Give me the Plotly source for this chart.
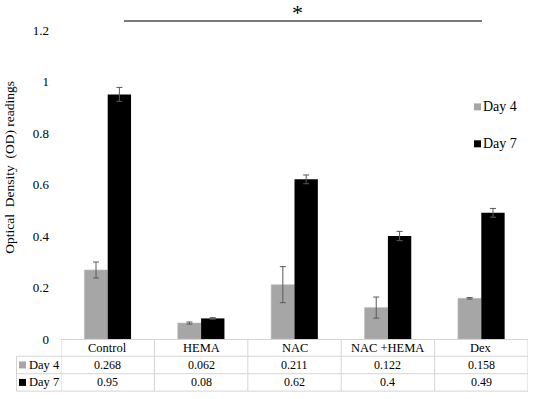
import plotly.graph_objects as go

categories = ["Control", "HEMA", "NAC", "NAC +HEMA", "Dex"]
day4 = [0.268, 0.062, 0.211, 0.122, 0.158]
day7 = [0.95, 0.08, 0.62, 0.4, 0.49]
day4_err = [0.031, 0.004, 0.07, 0.041, 0.003]
day7_err = [0.027, 0.003, 0.017, 0.018, 0.017]
day4_labels = ["0.268", "0.062", "0.211", "0.122", "0.158"]
day7_labels = ["0.95", "0.08", "0.62", "0.4", "0.49"]
y_ticks = [0, 0.2, 0.4, 0.6, 0.8, 1.0, 1.2]
y_ticktext = ["0", "0.2", "0.4", "0.6", "0.8", "1", "1.2"]

W, H = 535, 399
ML, MR, MT, MB = 61, 7, 30, 59.5
PW = W - ML - MR
PH = H - MT - MB

GRAY = "#a6a6a6"
BLACK = "#000000"
GRID = "#d4d4d4"
FONT = "Liberation Serif"


def px2x(px):
    return (px - ML) / PW


def py2y(py):
    return (H - MB - py) / PH


fig = go.Figure()
fig.add_trace(go.Bar(
    name="Day 4", x=categories, y=day4,
    marker=dict(color=GRAY, line=dict(color="#bdbdbd", width=0.6)),
    error_y=dict(type="data", array=day4_err, color="#595959", thickness=1, width=3),
))
fig.add_trace(go.Bar(
    name="Day 7", x=categories, y=day7,
    marker=dict(color=BLACK, line=dict(width=0)),
    error_y=dict(type="data", array=day7_err, color="#595959", thickness=1, width=3),
))

shapes = []
annotations = []

row_lines = [340, 356.7, 374.3, 391.7]
shapes.append(dict(type="line", xref="paper", yref="paper", x0=0, x1=1,
                   y0=py2y(row_lines[0]), y1=py2y(row_lines[0]),
                   line=dict(color=GRID, width=1)))
for r in row_lines[1:]:
    shapes.append(dict(type="line", xref="paper", yref="paper", x0=px2x(16.5), x1=1,
                       y0=py2y(r), y1=py2y(r), line=dict(color=GRID, width=1)))
shapes.append(dict(type="line", xref="paper", yref="paper", x0=px2x(16.5), x1=px2x(16.5),
                   y0=py2y(row_lines[1]), y1=py2y(row_lines[3]), line=dict(color=GRID, width=1)))
for i in range(len(categories) + 1):
    xv = i - 0.5
    shapes.append(dict(type="line", xref="x", yref="paper", x0=xv, x1=xv,
                       y0=py2y(row_lines[0]), y1=py2y(row_lines[3]),
                       line=dict(color=GRID, width=1)))

row_centers = [(row_lines[i] + row_lines[i + 1]) / 2 for i in range(3)]
tfont = dict(family=FONT, size=12, color="#000000")
for i, c in enumerate(categories):
    annotations.append(dict(x=c, xref="x", y=py2y(row_centers[0]), yref="paper",
                            text=c, showarrow=False,
                            font=dict(family=FONT, size=12.5, color="#000000"),
                            xanchor="center", yanchor="middle"))
    annotations.append(dict(x=c, xref="x", y=py2y(row_centers[1]), yref="paper",
                            text=day4_labels[i], showarrow=False, font=tfont,
                            xanchor="center", yanchor="middle"))
    annotations.append(dict(x=c, xref="x", y=py2y(row_centers[2]), yref="paper",
                            text=day7_labels[i], showarrow=False, font=tfont,
                            xanchor="center", yanchor="middle"))

for name, col, rc in [("Day 4", GRAY, row_centers[1]), ("Day 7", BLACK, row_centers[2])]:
    shapes.append(dict(type="rect", xref="paper", yref="paper",
                       x0=px2x(19), x1=px2x(26), y0=py2y(rc + 3.5), y1=py2y(rc - 3.5),
                       fillcolor=col, line=dict(width=0)))
    annotations.append(dict(x=px2x(27), xref="paper", y=py2y(rc), yref="paper",
                            text=name, showarrow=False, font=dict(family=FONT, size=12.5, color="#000000"),
                            xanchor="left", yanchor="middle"))

for name, col, cy in [("Day 4", GRAY, 107), ("Day 7", BLACK, 144)]:
    shapes.append(dict(type="rect", xref="paper", yref="paper",
                       x0=px2x(474), x1=px2x(481), y0=py2y(cy + 3.5), y1=py2y(cy - 3.5),
                       fillcolor=col, line=dict(width=0)))
    annotations.append(dict(x=px2x(481), xref="paper", y=py2y(cy), yref="paper",
                            text=name, showarrow=False,
                            font=dict(family=FONT, size=14, color="#000000"),
                            xanchor="left", yanchor="middle"))

shapes.append(dict(type="line", xref="paper", yref="paper", x0=px2x(124), x1=px2x(482),
                   y0=py2y(21), y1=py2y(21), line=dict(color="#7a7a7a", width=2)))
annotations.append(dict(x=px2x(297), xref="paper", y=py2y(12), yref="paper", text="*",
                        showarrow=False, font=dict(family=FONT, size=22, color="#000000"),
                        xanchor="center", yanchor="middle"))

annotations.append(dict(x=px2x(10), xref="paper", y=py2y(168), yref="paper",
                        text="Optical\u00a0\u00a0Density\u00a0\u00a0(OD) readings",
                        textangle=-90, showarrow=False,
                        font=dict(family=FONT, size=13.5, color="#000000"),
                        xanchor="center", yanchor="middle"))

fig.update_layout(
    width=W, height=H,
    margin=dict(l=ML, r=MR, t=MT, b=MB, autoexpand=False),
    plot_bgcolor="white", paper_bgcolor="white",
    barmode="group", bargap=0.5, bargroupgap=0,
    showlegend=False,
    shapes=shapes, annotations=annotations,
    font=dict(family=FONT, size=12, color="#000000"),
)
fig.update_xaxes(range=[-0.5, len(categories) - 0.5], showticklabels=False,
                 showgrid=False, zeroline=False, showline=False, ticks="",
                 automargin=False)
fig.update_yaxes(range=[0, 1.2], tickvals=y_ticks, ticktext=y_ticktext,
                 showgrid=False, zeroline=False, showline=False, ticks="",
                 ticklabelstandoff=11, automargin=False,
                 tickfont=dict(family=FONT, size=13, color="#000000"))

fig.write_html("out.html",
               config={"displayModeBar": False},
               post_script="document.body.style.margin='0px';document.body.style.overflow='hidden';")
